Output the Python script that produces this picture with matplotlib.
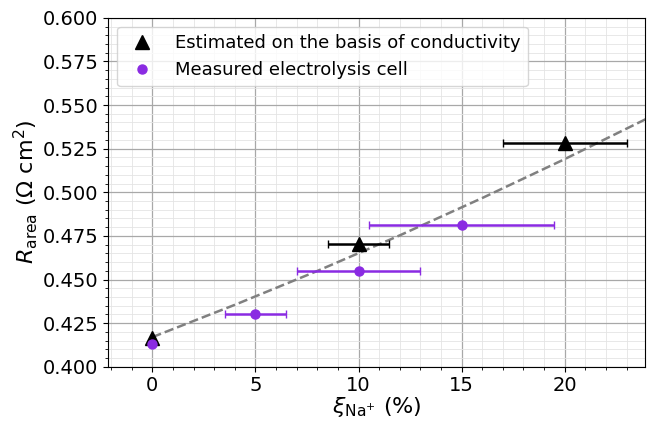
import matplotlib
matplotlib.use("Agg")
import matplotlib.pyplot as plt
import matplotlib.ticker as tck

# estimated on the basis of conductivity
x_est = [0, 10, 20]
y_est = [0.4165, 0.4705, 0.528]
xerr_est = [0, 1.5, 3.0]

# measured electrolysis cell
x_meas = [0, 5, 10, 15]
y_meas = [0.413, 0.430, 0.455, 0.481]
xerr_meas = [0, 1.5, 3.0, 4.5]

# dashed trend line
x_fit = [0, 4, 8, 12, 16, 20, 24]
y_fit = [0.417, 0.4355, 0.4549, 0.4753, 0.4967, 0.519, 0.5423]

fig, ax = plt.subplots(figsize=(6.47, 4.24), dpi=100)
fig.subplots_adjust(left=0.167, right=0.997, top=0.958, bottom=0.135)

ax.plot(x_fit, y_fit, color='gray', linestyle='--', linewidth=1.8, zorder=2)
ax.errorbar(x_est, y_est, xerr=xerr_est, fmt='^', color='black', markersize=10,
            capsize=3, elinewidth=1.8, label='Estimated on the basis of conductivity', zorder=3)
ax.errorbar(x_meas, y_meas, xerr=xerr_meas, fmt='o', color='#8a2be2', markersize=6.5,
            capsize=3, elinewidth=1.8, label='Measured electrolysis cell', zorder=4)

ax.set_xlim(-2.15, 23.9)
ax.set_ylim(0.4, 0.6)
ax.set_xticks([0, 5, 10, 15, 20])
ax.set_yticks([0.4, 0.425, 0.45, 0.475, 0.5, 0.525, 0.55, 0.575, 0.6])
ax.yaxis.set_major_formatter(tck.FormatStrFormatter('%.3f'))
ax.xaxis.set_minor_locator(tck.AutoMinorLocator(5))
ax.yaxis.set_minor_locator(tck.AutoMinorLocator(5))
ax.grid(True, which='major', color='#a8a8a8', linewidth=0.9)
ax.grid(True, which='minor', color='#e4e4e4', linewidth=0.6)
ax.set_axisbelow(True)
ax.tick_params(labelsize=14)

ax.set_xlabel(r'$\xi_{\mathrm{Na^{+}}}$ (%)', fontsize=16, labelpad=0)
ax.set_ylabel(r'$R_{\mathrm{area}}$ ($\Omega$ cm$^2$)', fontsize=16, labelpad=2)

h, l = ax.get_legend_handles_labels()
ax.legend([hh[0] for hh in h], l, loc='upper left', fontsize=13)

fig.savefig('out.png')
